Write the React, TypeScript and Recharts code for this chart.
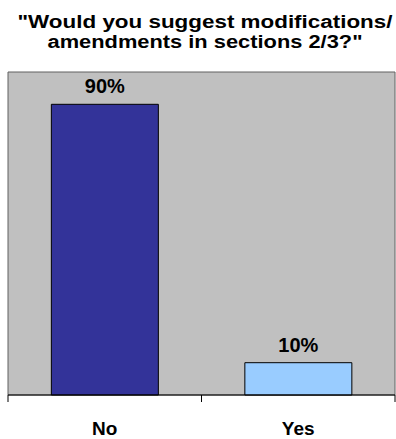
import React from "react";
import { BarChart, Bar, XAxis, YAxis, Cell, LabelList, ReferenceArea } from "recharts";

const titleLines = ['"Would you suggest modifications/', 'amendments in sections 2/3?"'];
const titleWidths = [375, 315];
const categories = ["No", "Yes"];
const values = [90, 10];
const colors = ["#333399", "#99CCFF"];

const data = categories.map((c, i) => ({ cat: c, value: values[i] }));

const FONT = "'Liberation Sans', Arial, sans-serif";
const TICK_MARGIN = 26;
const TICK_LEN = 7;

const CatTick = (props: any) => {
  const { x, y, payload, index, visibleTicksCount } = props;
  const half = payload && payload.offset ? payload.offset : 0;
  const axisY = y - TICK_MARGIN;
  const last = index === (visibleTicksCount ?? categories.length) - 1;
  return (
    <g>
      <line x1={x - half} x2={x - half} y1={axisY} y2={axisY + TICK_LEN} stroke="#000" />
      {last && <line x1={x + half} x2={x + half} y1={axisY} y2={axisY + TICK_LEN} stroke="#000" />}
      <text x={x} y={y} dy={14} textAnchor="middle" fontFamily={FONT} fontWeight="bold" fontSize={19} fill="#000">
        {payload.value}
      </text>
    </g>
  );
};

export default function App() {
  return (
    <div style={{ position: "absolute", left: 0, top: 0, width: 396, height: 439, background: "#fff" }}>
      <svg width={396} height={60} style={{ position: "absolute", left: 0, top: 0 }}>
        {titleLines.map((t, i) => (
          <text
            key={i}
            x={205}
            y={28 + i * 20}
            textAnchor="middle"
            fontFamily={FONT}
            fontWeight="bold"
            fontSize={18}
            fill="#000"
            textLength={titleWidths[i]}
            lengthAdjust="spacingAndGlyphs"
          >
            {t}
          </text>
        ))}
      </svg>
      <div style={{ position: "absolute", left: 0, top: 0 }}>
        <BarChart width={396} height={439} data={data} margin={{ top: 72, right: 1, bottom: 0, left: 8 }} barCategoryGap="22.4%">
          <YAxis hide domain={[0, 100]} />
          <ReferenceArea y1={0} y2={100} fill="#C0C0C0" fillOpacity={1} stroke="#606060" strokeWidth={1} ifOverflow="visible" />
          <XAxis
            dataKey="cat"
            height={44}
            axisLine={{ stroke: "#000" }}
            tickLine={false}
            tickSize={0}
            tickMargin={TICK_MARGIN}
            tick={<CatTick />}
            interval={0}
          />
          <Bar dataKey="value" isAnimationActive={false} stroke="#000" strokeWidth={1}>
            {data.map((d, i) => (
              <Cell key={d.cat} fill={colors[i]} />
            ))}
            <LabelList
              dataKey="value"
              position="top"
              offset={11}
              formatter={(v: any) => `${v}%`}
              style={{ fontFamily: FONT, fontWeight: "bold", fontSize: 20, fill: "#000" }}
            />
          </Bar>
        </BarChart>
      </div>
    </div>
  );
}
